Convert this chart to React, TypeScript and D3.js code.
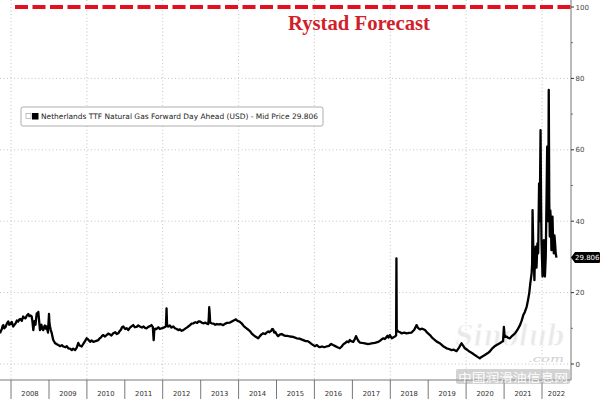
import React from 'react';
import * as d3 from 'd3';

const priceDates = [
  '2007-09-16','2007-09-28','2007-10-05','2007-10-12','2007-10-19','2007-10-28','2007-11-10','2007-11-22','2007-12-06','2007-12-15','2007-12-25',
  '2008-01-08','2008-01-22','2008-02-03','2008-02-15','2008-02-27','2008-03-11','2008-03-22','2008-04-01','2008-04-14','2008-04-27','2008-05-08','2008-05-20','2008-06-02','2008-06-16','2008-06-26','2008-07-05','2008-07-18','2008-07-25','2008-08-03','2008-08-09','2008-08-14','2008-08-24','2008-08-30','2008-09-05','2008-09-12','2008-09-20','2008-09-28','2008-10-06','2008-10-14','2008-10-20','2008-10-28','2008-11-07','2008-11-15','2008-11-22','2008-12-01','2008-12-10','2008-12-16','2008-12-22',
  '2009-01-01','2009-01-05','2009-01-11','2009-01-18','2009-01-27','2009-02-10','2009-02-27','2009-03-14','2009-03-31','2009-04-20','2009-05-05','2009-05-18','2009-06-10','2009-06-22','2009-07-06','2009-07-22','2009-08-08','2009-08-22','2009-09-09','2009-09-25','2009-10-10','2009-10-22','2009-11-12','2009-11-26','2009-12-05','2009-12-18','2009-12-30',
  '2010-01-15','2010-02-01','2010-02-15','2010-03-04','2010-03-25','2010-04-21','2010-05-05','2010-05-15','2010-05-28','2010-06-08','2010-06-22','2010-07-09','2010-07-25','2010-08-10','2010-08-25','2010-09-12','2010-10-01','2010-10-15','2010-10-30','2010-11-12','2010-11-25','2010-12-05','2010-12-17',
  '2011-01-05','2011-01-20','2011-02-03','2011-02-20','2011-03-10','2011-03-23','2011-04-08','2011-04-25','2011-05-10','2011-05-26','2011-06-15','2011-07-01','2011-07-15','2011-07-29','2011-08-15','2011-09-01','2011-09-15','2011-09-28','2011-10-06','2011-10-12','2011-10-20','2011-11-03','2011-11-20','2011-12-05','2011-12-21',
  '2012-01-10','2012-02-01','2012-02-07','2012-02-12','2012-02-23','2012-03-10','2012-03-25','2012-04-12','2012-04-28','2012-05-15','2012-05-30','2012-06-15','2012-07-01','2012-07-17','2012-08-05','2012-08-20','2012-09-03','2012-09-20','2012-10-05','2012-10-23','2012-11-10','2012-11-28','2012-12-10','2012-12-25',
  '2013-01-10','2013-01-26','2013-02-15','2013-03-01','2013-03-15','2013-03-20','2013-03-24','2013-03-28','2013-04-02','2013-04-15','2013-05-05','2013-05-20','2013-06-03','2013-06-20','2013-07-10','2013-08-06','2013-08-25','2013-09-12','2013-10-10','2013-10-28','2013-11-15','2013-12-06','2013-12-20',
  '2014-01-10','2014-01-30','2014-02-20','2014-03-18','2014-04-05','2014-04-20','2014-05-06','2014-05-25','2014-06-15','2014-07-09','2014-07-25','2014-08-10','2014-08-26','2014-09-15','2014-09-28','2014-10-13','2014-10-25','2014-11-10','2014-11-20','2014-11-30','2014-12-10','2014-12-20',
  '2015-01-05','2015-01-17','2015-02-05','2015-02-20','2015-03-08','2015-03-28','2015-04-15','2015-05-11','2015-06-10','2015-07-14','2015-08-10','2015-08-28','2015-09-15','2015-10-10','2015-10-28','2015-11-18','2015-12-10',
  '2016-01-05','2016-01-25','2016-02-08','2016-02-22','2016-03-15','2016-04-05','2016-04-26','2016-05-20','2016-06-10','2016-06-29','2016-07-20','2016-08-10','2016-09-02','2016-09-20','2016-10-05','2016-10-20','2016-11-10','2016-11-25','2016-12-07','2016-12-20',
  '2017-01-09','2017-01-25','2017-02-05','2017-02-18','2017-03-01','2017-03-14','2017-04-05','2017-05-01','2017-06-01','2017-07-05','2017-08-05','2017-09-07','2017-09-28','2017-10-10','2017-10-25','2017-11-10','2017-12-05','2017-12-15','2017-12-28',
  '2018-01-15','2018-02-01','2018-02-15','2018-02-26','2018-03-01','2018-03-04','2018-03-17','2018-04-05','2018-04-19','2018-05-15','2018-06-07','2018-07-01','2018-07-25','2018-08-20','2018-09-11','2018-09-25','2018-10-13','2018-11-05','2018-12-01','2018-12-25',
  '2019-01-18','2019-02-10','2019-03-07','2019-03-28','2019-04-24','2019-05-25','2019-06-27','2019-07-20','2019-08-14','2019-09-05','2019-10-01','2019-10-25','2019-11-18','2019-12-05','2019-12-20',
  '2020-01-15','2020-02-06','2020-03-01','2020-03-25','2020-04-20','2020-05-12','2020-05-25','2020-06-29','2020-07-25','2020-08-16','2020-09-10','2020-10-03','2020-10-25','2020-11-20','2020-12-10','2020-12-22','2020-12-30',
  '2021-01-04','2021-01-08','2021-01-25','2021-02-10','2021-02-26','2021-03-20','2021-04-16','2021-05-10','2021-06-03','2021-06-20','2021-07-05','2021-07-20','2021-08-07','2021-08-20','2021-08-31','2021-09-10','2021-09-23','2021-09-28','2021-10-02','2021-10-06','2021-10-10','2021-10-15','2021-10-20','2021-10-24','2021-11-01','2021-11-09','2021-11-18','2021-11-25','2021-12-04','2021-12-10','2021-12-18','2021-12-23','2021-12-27',
  '2022-01-06','2022-01-12','2022-01-19','2022-01-24','2022-01-29','2022-02-06','2022-02-14','2022-02-20','2022-03-02','2022-03-07','2022-03-12','2022-03-17','2022-03-22','2022-03-27','2022-04-02','2022-04-08','2022-04-12','2022-04-18','2022-04-25','2022-05-01','2022-05-07','2022-05-13','2022-05-20'
];
const priceValues = [
  8.6,9.4,9.8,10.6,10.9,10.0,10.4,11.3,11.9,11.0,11.2,
  11.8,10.5,11.0,11.4,12.2,11.9,12.5,12.6,12.1,13.3,12.9,12.8,13.6,14.0,13.4,13.6,13.3,12.0,9.5,11.0,12.0,11.0,12.8,14.2,13.5,14.6,12.0,9.5,10.5,11.0,9.8,9.5,10.4,10.8,9.9,10.5,9.6,8.8,
  14.0,11.5,10.5,9.5,8.7,6.8,5.9,5.6,5.3,5.0,5.3,4.9,4.7,5.0,4.4,4.3,3.9,4.3,3.9,4.6,5.9,5.2,4.9,5.6,6.0,6.6,7.2,
  6.8,6.2,6.6,6.2,6.4,6.7,7.2,7.4,7.9,8.1,7.7,8.1,8.5,8.3,8.0,8.6,8.9,8.4,8.6,9.2,9.6,10.3,10.5,
  9.8,10.0,9.5,10.2,10.6,10.9,10.3,10.4,10.8,10.5,10.2,10.5,10.1,10.0,10.4,10.6,10.9,10.3,6.7,9.4,9.9,9.8,10.3,9.8,10.0,
  10.2,10.5,15.6,11.0,10.5,10.8,10.2,10.5,10.0,9.8,9.5,9.7,9.3,9.5,9.9,10.2,10.5,10.9,11.3,11.4,11.7,11.5,11.9,11.9,
  11.6,11.4,11.6,11.3,11.2,13.0,15.9,14.5,11.6,11.4,11.3,11.0,11.2,11.1,11.2,10.9,11.3,11.5,11.6,11.9,12.2,12.5,12.1,
  11.9,11.4,10.6,10.0,9.6,9.2,8.6,8.1,7.6,7.2,7.8,8.3,8.6,8.4,8.8,9.1,8.9,9.3,9.8,9.7,8.8,9.0,
  8.2,7.8,8.3,8.4,8.1,7.9,7.9,7.7,7.6,7.2,7.1,6.9,6.7,6.4,6.4,6.0,5.5,
  5.0,5.3,4.9,4.7,4.9,4.7,4.9,5.1,5.6,5.3,5.0,4.7,4.4,4.9,5.5,5.8,6.3,6.1,6.7,6.4,
  6.2,7.0,7.8,7.0,6.4,6.0,5.9,5.8,5.6,5.8,5.9,6.2,6.6,6.9,7.2,7.0,7.9,7.4,8.1,
  7.2,7.5,7.7,8.0,29.6,9.6,9.1,8.9,8.6,8.8,8.6,8.7,8.8,9.6,10.9,10.1,9.7,9.9,9.5,8.7,
  8.1,7.3,6.7,6.2,5.8,5.0,4.4,4.2,3.9,4.0,3.6,4.6,5.8,5.1,4.4,
  3.9,3.4,3.0,2.5,2.0,1.6,1.9,2.5,3.0,3.5,4.4,5.0,5.4,5.8,6.2,6.4,10.4,
  8.5,7.6,7.7,7.3,7.2,7.9,8.6,9.6,10.9,12.2,13.7,14.6,16.1,18.0,19.8,22.5,25.4,28.0,43.1,37.0,31.0,28.0,23.5,28.5,32.9,27.0,33.8,31.0,50.6,40.0,65.5,45.0,34.7,
  24.5,30.0,34.7,27.0,24.5,30.0,46.9,60.9,40.0,76.8,45.0,35.7,43.0,40.3,31.9,36.0,41.3,34.0,31.0,36.0,33.8,31.0,29.806
];

const yearLabels = ['2008','2009','2010','2011','2012','2013','2014','2015','2016','2017','2018','2019','2020','2021','2022'];
const gridYears = [2008, 2010, 2012, 2014, 2016, 2018, 2020, 2022];
const yTicks = [0, 20, 40, 60, 80, 100];
const yMinorTicks = [10, 30, 50, 70, 90];
const yGridValues = [0, 20, 40, 60, 80];
const forecastValue = 100;
const lastPrice = 29.806;
const lastPriceLabel = '29.806';
const titleText = 'Rystad Forecast';
const legendText = 'Netherlands TTF Natural Gas Forward Day Ahead (USD) - Mid Price 29.806';
const watermarkBrand = 'Sinolub';
const watermarkDomain = '.com';
const watermarkCn = '中国润滑油信息网';

export default function App() {
  const W = 600;
  const H = 399;
  const axisX = 571;
  const bandTop = 380;
  const x = d3.scaleTime().domain([new Date(2008, 0, 1), new Date(2022, 0, 1)]).range([11, 542]);
  const y = d3.scaleLinear().domain([0, 100]).range([364, 7]);
  const parse = d3.timeParse('%Y-%m-%d');
  const pts: [Date, number][] = priceDates.map((d, i) => [parse(d) as Date, priceValues[i]]);
  const line = d3.line<[Date, number]>().x(d => x(d[0])).y(d => y(d[1]));
  const path = line(pts) || '';
  const axisFont = "'DejaVu Sans', sans-serif";
  const priceY = y(lastPrice);

  return (
    <svg width={W} height={H} style={{ position: 'absolute', left: 0, top: 0, background: '#fff' }}>
      <rect x={0} y={0} width={W} height={H} fill="#fff" />
      {yGridValues.map(v => (
        <line key={'hg' + v} x1={0} x2={axisX} y1={y(v)} y2={y(v)} stroke="#b5b5b5" strokeWidth={0.8} strokeDasharray="1,2.5" />
      ))}
      {gridYears.map(yr => (
        <line key={'vg' + yr} x1={x(new Date(yr, 0, 1))} x2={x(new Date(yr, 0, 1))} y1={0} y2={bandTop} stroke="#b5b5b5" strokeWidth={0.8} strokeDasharray="1,2.5" />
      ))}
      <line x1={0} x2={axisX} y1={bandTop} y2={bandTop} stroke="#555" strokeWidth={0.8} />
      {yearLabels.map(lbl => {
        const yr = +lbl;
        const s = x(new Date(yr, 0, 1));
        const e = Math.min(x(new Date(yr + 1, 0, 1)), axisX);
        return (
          <g key={'yl' + lbl}>
            <line x1={s} x2={s} y1={bandTop} y2={H} stroke="#555" strokeWidth={0.8} />
            <text x={(s + e) / 2} y={396} fontSize={6.8} fontFamily={axisFont} fill="#333" textAnchor="middle">{lbl}</text>
          </g>
        );
      })}
      <line x1={axisX} x2={axisX} y1={0} y2={bandTop} stroke="#666" strokeWidth={0.9} />
      {yTicks.map(v => (
        <g key={'yt' + v}>
          <line x1={axisX} x2={axisX + 3} y1={y(v)} y2={y(v)} stroke="#333" strokeWidth={1} />
          <text x={axisX + 4.5} y={y(v) + 2.6} fontSize={7} fontFamily={axisFont} fill="#444">{v}</text>
        </g>
      ))}
      {yMinorTicks.map(v => (
        <line key={'ym' + v} x1={axisX} x2={axisX + 2} y1={y(v)} y2={y(v)} stroke="#555" strokeWidth={0.8} />
      ))}
      <line x1={15} x2={axisX} y1={y(forecastValue)} y2={y(forecastValue)} stroke="#e3101f" strokeWidth={4} strokeDasharray="13,4.5" />
      <text x={288} y={30} fontSize={21} fontWeight="bold" fontFamily="'Liberation Serif', 'DejaVu Serif', serif" fill="#d11f2b" textLength={142} lengthAdjust="spacingAndGlyphs">{titleText}</text>
      <g opacity={0.85}>
        <text x={455} y={346} fontSize={30} fontStyle="italic" fontWeight="bold" fontFamily="'DejaVu Serif', serif" fill="#e6e6e6" stroke="#ffffff" strokeWidth={1.2} textLength={110} lengthAdjust="spacingAndGlyphs">{watermarkBrand}</text>
        <text x={528} y={362} fontSize={10} fontStyle="italic" fontFamily="'DejaVu Serif', serif" fill="#c8c8c8" textLength={36} lengthAdjust="spacingAndGlyphs">{watermarkDomain}</text>
        <rect x={456} y={369} width={114} height={15} fill="#9a9a9a" opacity={0.5} rx={2} />
        <text x={513} y={382} fontSize={11.5} fontFamily="'Noto Sans CJK SC', sans-serif" fill="#ffffff" textAnchor="middle" textLength={110} lengthAdjust="spacingAndGlyphs">{watermarkCn}</text>
      </g>
      <path d={path} fill="none" stroke="#000" strokeWidth={2.3} strokeLinejoin="round" />
      <path d={`M${axisX},${priceY} L${axisX + 4},${priceY - 5.5} L${W - 1},${priceY - 5.5} Q${W},${priceY - 5.5} ${W},${priceY - 4} L${W},${priceY + 4} Q${W},${priceY + 5.5} ${W - 1},${priceY + 5.5} L${axisX + 4},${priceY + 5.5} Z`} fill="#000" />
      <text x={axisX + 4} y={priceY + 2.6} fontSize={7} fontFamily={axisFont} fill="#fff">{lastPriceLabel}</text>
      <rect x={21} y={107} width={302} height={19} rx={2} fill="#fff" stroke="#999" strokeWidth={0.8} />
      <rect x={26} y={113.5} width={5} height={5} fill="none" stroke="#999" strokeWidth={0.6} />
      <rect x={32} y={113} width={6.5} height={6.5} fill="#000" />
      <text x={41} y={119} fontSize={7.5} fontFamily={axisFont} fill="#222" textLength={277} lengthAdjust="spacingAndGlyphs">{legendText}</text>
    </svg>
  );
}
